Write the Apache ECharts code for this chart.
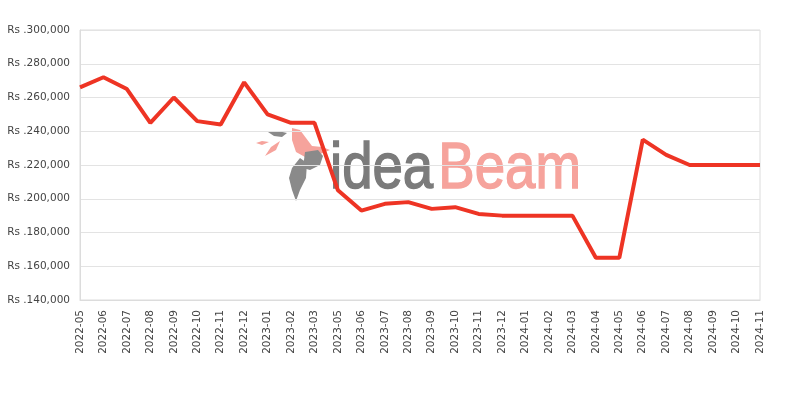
<!DOCTYPE html>
<html><head><meta charset="utf-8">
<script src="https://cdn.jsdelivr.net/npm/echarts@6/dist/echarts.min.js"></script>
<style>html,body{margin:0;padding:0;background:#fff}#c{width:800px;height:400px}</style>
</head><body><div id="c"></div>
<script>
const categories = ['2022-05','2022-06','2022-07','2022-08','2022-09','2022-10','2022-11','2022-12','2023-01','2023-02','2023-03','2023-05','2023-06','2023-07','2023-08','2023-09','2023-10','2023-11','2023-12','2024-01','2024-02','2024-03','2024-04','2024-05','2024-06','2024-07','2024-08','2024-09','2024-10','2024-11'];
const prices = [266000,272000,265000,245000,260000,246000,244000,269000,250000,245000,245000,205000,193000,197000,198000,194000,195000,191000,190000,190000,190000,190000,165000,165000,235000,226000,220000,220000,220000,220000];
const yMin = 140000, yMax = 300000, yStep = 20000;

const chart = echarts.init(document.getElementById('c'), null, {renderer:'canvas'});
const fmt = v => 'Rs .' + v.toLocaleString('en-US');
const logoFont = 'Liberation Sans, Arial, sans-serif';
chart.setOption({
  animation:false,
  grid:{left:80,right:40,top:30,bottom:100,show:true,borderColor:'#dcdcdc',borderWidth:1},
  graphic:[
    {type:'group',z:-10,silent:true,children:[
      {type:'polygon',shape:{points:[[256,143],[262,141],[269,142],[262,145]]},style:{fill:'#f6a39c'}},
      {type:'polygon',shape:{points:[[265,156],[271,147],[280,141],[276,150]]},style:{fill:'#f6a39c'}},
      {type:'polygon',shape:{points:[[268,132],[278,131],[287,133],[282,137],[274,136]]},style:{fill:'#8a8a8a'}},
      {type:'polygon',shape:{points:[[292,128],[300,130],[306,138],[312,146],[322,147],[330,150],[318,155],[305,157],[296,152],[292,140]]},style:{fill:'#f6a39c'}},
      {type:'polygon',shape:{points:[[305,152],[318,150],[323,156],[320,165],[310,170],[303,168]]},style:{fill:'#8a8a8a'}},
      {type:'polygon',shape:{points:[[300,158],[307,163],[306,178],[300,190],[296,201],[292,190],[289,178],[292,168]]},style:{fill:'#8a8a8a'}},
      {type:'text',x:330,y:138,scaleX:0.84,style:{x:0,y:0,text:'{g|idea}{r|Beam}',rich:{
        g:{fill:'#7b7b7b',stroke:'#7b7b7b',lineWidth:1.5,fontSize:65,fontFamily:logoFont},
        r:{fill:'#f6a39c',stroke:'#f6a39c',lineWidth:1.5,fontSize:65,fontFamily:logoFont,padding:[0,0,0,6]}}}}
    ]}
  ],
  xAxis:{type:'category',data:categories,boundaryGap:false,
    axisLine:{lineStyle:{color:'#dcdcdc'}},axisTick:{show:false},
    axisLabel:{rotate:90,color:'#444',fontSize:10.5,fontFamily:'DejaVu Sans, sans-serif',margin:10,interval:0},
    splitLine:{show:false}},
  yAxis:{type:'value',min:yMin,max:yMax,interval:yStep,
    axisLine:{show:true,lineStyle:{color:'#dcdcdc'}},axisTick:{show:false},
    axisLabel:{formatter:fmt,color:'#444',fontSize:10.5,fontFamily:'DejaVu Sans, sans-serif',margin:10},
    splitLine:{lineStyle:{color:'#e3e3e3'}}},
  series:[{type:'line',data:prices,showSymbol:false,symbol:'none',
    lineStyle:{color:'#ee3424',width:4},itemStyle:{color:'#ee3424'},z:5}]
});
</script></body></html>
